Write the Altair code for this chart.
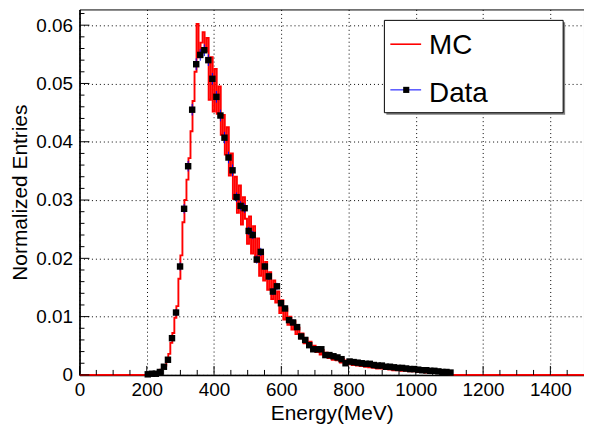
import altair as alt
import pandas as pd

# ---------------- data ----------------
data_energy = list(range(203, 1104, 12))  # bin centres (MeV)
data_values = [
    0.0001, 0.0002, 0.0002, 0.0005, 0.0014, 0.0026, 0.0063, 0.0107, 0.0186, 0.0285,
    0.0358, 0.0455, 0.0533, 0.0549, 0.0557, 0.0540, 0.0508, 0.0477, 0.0445, 0.0407,
    0.0373, 0.0351, 0.0305, 0.0290, 0.0286, 0.0247, 0.0240, 0.0198, 0.0211, 0.0186,
    0.0169, 0.0143, 0.0152, 0.0123, 0.0114, 0.0094, 0.0090, 0.0082, 0.0066, 0.0060,
    0.0051, 0.0044, 0.0044, 0.0044, 0.0034, 0.0034, 0.0032, 0.0030, 0.0027, 0.0020,
    0.0023, 0.0022,
    0.0021, 0.0020, 0.0019, 0.0019, 0.0017, 0.0016, 0.0016, 0.0014, 0.0014, 0.0013,
    0.0012, 0.0012, 0.0011, 0.0010, 0.0010, 0.0009, 0.0008, 0.0008, 0.0007, 0.0007,
    0.0006, 0.0005, 0.0005, 0.0004,
]
data_errors = (
    [0.0001, 0.0001, 0.0001, 0.0002, 0.0003, 0.0004]
    + [0.0005, 0.0006, 0.0007, 0.0008, 0.0009, 0.0010]
    + [0.0010] * 10
    + [0.0008, 0.0008, 0.0008, 0.0007, 0.0007, 0.0007, 0.0007, 0.0006, 0.0006, 0.0006]
    + [0.0006, 0.0005, 0.0005, 0.0005, 0.0005, 0.0004, 0.0004, 0.0004, 0.0004, 0.0003]
    + [0.0003] * 10
    + [0.0002] * 24
)

mc_edges = list(range(198, 1105, 6))  # MC bin edges (MeV)
mc_values = [
    0.0000, 0.0001, 0.0002, 0.0002, 0.0003,
    0.0004, 0.0006, 0.0009, 0.0012, 0.0016,
    0.0024, 0.0036, 0.0055, 0.0072, 0.0098,
    0.0118, 0.0165, 0.0205, 0.0262, 0.0300,
    0.0335, 0.0372, 0.0418, 0.0470, 0.0520,
    0.0602, 0.0545, 0.0570, 0.0588, 0.0555,
    0.0578, 0.0472, 0.0545, 0.0452, 0.0525,
    0.0448, 0.0495, 0.0412, 0.0446, 0.0378,
    0.0425, 0.0342, 0.0380, 0.0302, 0.0340,
    0.0278, 0.0325, 0.0258, 0.0305, 0.0268,
    0.0225, 0.0272, 0.0208, 0.0255, 0.0194,
    0.0234, 0.0170, 0.0210, 0.0162, 0.0194,
    0.0146, 0.0176, 0.0130, 0.0162, 0.0124,
    0.0143, 0.0106, 0.0128, 0.0095, 0.0114,
    0.0086, 0.0100, 0.0078, 0.0092, 0.0070,
    0.0081, 0.0063, 0.0071, 0.0054, 0.0063,
    0.0049, 0.0057, 0.0043, 0.0050, 0.0039,
    0.0047, 0.0035, 0.0043, 0.0032, 0.0038,
    0.0029, 0.0036, 0.0026, 0.0033, 0.0025,
    0.0030, 0.0021, 0.0028, 0.0019, 0.0025,
    0.0018, 0.0024, 0.0017, 0.0022, 0.0016,
    0.0021, 0.0015, 0.0020, 0.0014, 0.0018,
    0.0013, 0.0017, 0.0012, 0.0016, 0.0011,
    0.0015, 0.0011, 0.0014, 0.0010, 0.0013,
    0.0009, 0.0012, 0.0008, 0.0011, 0.0008,
    0.0011, 0.0007, 0.0010, 0.0007, 0.0009,
    0.0006, 0.0009, 0.0006, 0.0008, 0.0005,
    0.0007, 0.0005, 0.0007, 0.0004, 0.0006,
    0.0004, 0.0006, 0.0003, 0.0005, 0.0003,
    0.0005, 0.0002, 0.0004, 0.0002, 0.0003,
    0.0001,
]

x_major = [0, 200, 400, 600, 800, 1000, 1200, 1400]
x_minor = [v for v in range(50, 1500, 50) if v % 200 != 0]
y_major = [0, 0.01, 0.02, 0.03, 0.04, 0.05, 0.06]
y_minor = [round(0.002 * i, 4) for i in range(1, 32) if i % 5 != 0]

X_DOMAIN = [0, 1500]
Y_DOMAIN = [0, 0.0627]
FONT = "Liberation Sans"

# ---------------- tables ----------------
mc_x = [0] + mc_edges[:-1] + [mc_edges[-1], 1500]
mc_y = [0.0] + mc_values + [0.0, 0.0]
mc_df = pd.DataFrame({"E": mc_x, "v": mc_y})

data_df = pd.DataFrame({
    "E": data_energy,
    "v": data_values,
    "lo": [v - e for v, e in zip(data_values, data_errors)],
    "hi": [v + e for v, e in zip(data_values, data_errors)],
})

xs = alt.Scale(domain=X_DOMAIN, nice=False, zero=False)
ys = alt.Scale(domain=Y_DOMAIN, nice=False, zero=False)

x_axis = alt.Axis(
    values=x_major, format="d", ticks=False, tickSize=0, grid=True,
    gridColor="black", gridDash=[1, 3], gridWidth=1,
    labelFontSize=19, labelPadding=6, labelFlush=False, labelFont=FONT,
    labelColor="black", domainColor="black", domainWidth=1.5,
    title="Energy(MeV)", titleFont=FONT, titleFontSize=21, titleFontWeight="normal",
    titleColor="black", titleX=254, titleY=45, titleBaseline="alphabetic",
    titleAlign="center",
)
y_axis = alt.Axis(
    values=y_major, ticks=False, tickSize=0, grid=True,
    gridColor="black", gridDash=[1, 3], gridWidth=1,
    labelExpr="datum.value == 0 ? '0' : format(datum.value, '.2f')",
    labelFontSize=19, labelPadding=7, labelFlush=False, labelFont=FONT,
    labelColor="black", domainColor="black", domainWidth=1.5,
    title="Normalized Entries", titleFont=FONT, titleFontSize=21,
    titleFontWeight="normal", titleColor="black", titleAngle=270,
    titleX=-53, titleY=184, titleBaseline="alphabetic", titleAlign="center",
)

base_axes = alt.Chart(mc_df).mark_line(opacity=0).encode(
    x=alt.X("E:Q", scale=xs, axis=x_axis),
    y=alt.Y("v:Q", scale=ys, axis=y_axis),
)

mc_line = alt.Chart(mc_df).mark_line(
    color="#ff0000", strokeWidth=1.9, interpolate="step-after"
).encode(
    x=alt.X("E:Q", scale=xs), y=alt.Y("v:Q", scale=ys)
)

err = alt.Chart(data_df).mark_rule(color="#0000ff", strokeWidth=1).encode(
    x=alt.X("E:Q", scale=xs), y=alt.Y("lo:Q", scale=ys), y2="hi:Q"
)

pts = alt.Chart(data_df).mark_square(
    color="black", filled=True, opacity=1, size=42
).encode(x=alt.X("E:Q", scale=xs), y=alt.Y("v:Q", scale=ys))

# inward ticks (ROOT style)
xmaj = alt.Chart(pd.DataFrame({"t": x_major})).mark_rule(color="black").encode(
    x=alt.X("t:Q", scale=xs), y=alt.value(368), y2=alt.value(359)
)
xmin = alt.Chart(pd.DataFrame({"t": x_minor})).mark_rule(color="black").encode(
    x=alt.X("t:Q", scale=xs), y=alt.value(368), y2=alt.value(363)
)
ymaj = alt.Chart(pd.DataFrame({"t": y_major})).mark_rule(color="black").encode(
    y=alt.Y("t:Q", scale=ys), x=alt.value(0), x2=alt.value(10)
)
ymin = alt.Chart(pd.DataFrame({"t": y_minor})).mark_rule(color="black").encode(
    y=alt.Y("t:Q", scale=ys), x=alt.value(0), x2=alt.value(5)
)

# legend box
one = pd.DataFrame({"a": [0]})
leg_shadow = alt.Chart(one).mark_rect(color="#7f7f7f").encode(
    x=alt.value(309), x2=alt.value(489), y=alt.value(13), y2=alt.value(106)
)
leg_box = alt.Chart(one).mark_rect(fill="white", stroke="black", strokeWidth=1).encode(
    x=alt.value(307), x2=alt.value(487), y=alt.value(11), y2=alt.value(104)
)
leg_mc_line = alt.Chart(one).mark_rule(color="#ff0000", strokeWidth=1.6).encode(
    x=alt.value(313), x2=alt.value(344), y=alt.value(35)
)
leg_mc_text = alt.Chart(one).mark_text(
    text="MC", font=FONT, fontSize=28, align="left", baseline="alphabetic", color="black"
).encode(x=alt.value(352), y=alt.value(45))
leg_d_line = alt.Chart(one).mark_rule(color="#0000ff", strokeWidth=1).encode(
    x=alt.value(313), x2=alt.value(344), y=alt.value(81)
)
leg_d_pt = alt.Chart(one).mark_square(color="black", filled=True, opacity=1, size=38).encode(
    x=alt.value(329), y=alt.value(81)
)
leg_d_text = alt.Chart(one).mark_text(
    text="Data", font=FONT, fontSize=28, align="left", baseline="alphabetic", color="black"
).encode(x=alt.value(352), y=alt.value(93))

chart = alt.layer(
    base_axes, mc_line, err, pts, xmaj, xmin, ymaj, ymin,
    leg_shadow, leg_box, leg_mc_line, leg_mc_text, leg_d_line, leg_d_pt, leg_d_text,
).properties(
    width=508, height=368,
    padding={"left": 72, "top": 0, "right": 0, "bottom": 50},
    autosize=alt.AutoSizeParams(type="none"),
    background="white",
).configure_view(stroke="black", strokeWidth=1)

chart.save("out.html", embed_options={"renderer": "svg", "actions": False})
